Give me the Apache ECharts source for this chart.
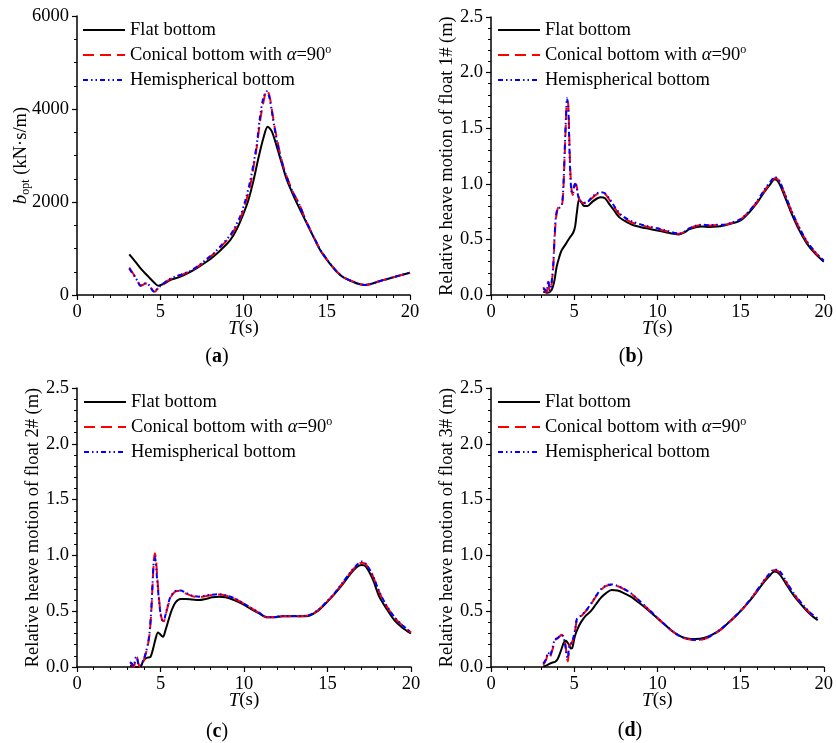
<!DOCTYPE html>
<html><head><meta charset="utf-8">
<script src="https://cdn.jsdelivr.net/npm/echarts@6/dist/echarts.min.js"></script>
<style>html,body{margin:0;padding:0;background:#fff}#c{width:836px;height:743px}</style>
</head><body><div id="c"></div>
<script>
// ---------- data ----------
const seriesNames = ['Flat bottom', 'Conical bottom with α=90°', 'Hemispherical bottom'];
const xTicks = [0, 5, 10, 15, 20];

// (a) b_opt
const aFlatT = [3.14,3.5,3.9,4.3,4.6,4.88,5.2,5.6,6.1,6.6,7.2,7.8,8.2,8.7,9.2,9.6,10.0,10.3,10.6,10.9,11.2,11.45,11.7,12.0,12.3,12.6,12.9,13.2,13.8,14.3,14.6,15.0,15.6,16.0,16.6,17.0,17.3,17.7,18.1,18.6,19.2,20.0];
const aFlatV = [875,720,540,390,280,200,240,320,380,460,580,720,830,990,1180,1420,1750,2050,2460,2950,3380,3620,3520,3190,2830,2480,2220,1980,1540,1180,970,760,500,380,280,230,215,240,290,340,400,480];
const aConT = [3.14,3.3,3.48,3.65,3.8,3.95,4.1,4.25,4.4,4.55,4.68,4.8,4.98,5.2,5.5,5.9,6.3,6.8,7.3,7.8,8.2,8.7,9.2,9.5,9.8,10.1,10.4,10.6,10.8,11.0,11.2,11.4,11.55,11.7,11.85,12.0,12.2,12.4,12.7,13.0,13.3,13.8,14.3,14.6,15.0,15.6,16.0,16.6,17.0,17.3,17.7,18.1,18.6,19.2,20.0];
const aConV = [590,500,400,300,205,215,245,245,180,95,70,120,180,240,320,390,440,510,620,760,880,1060,1260,1430,1640,1950,2350,2750,3190,3750,4150,4400,4300,4000,3650,3380,3030,2760,2450,2190,1990,1560,1190,980,770,505,385,285,230,215,240,290,340,400,480];
const aHemV = [570,480,390,290,200,220,250,240,170,90,65,125,185,250,330,395,445,520,630,775,895,1080,1285,1470,1690,2020,2450,2820,3250,3850,4250,4380,4250,3950,3620,3330,3000,2740,2440,2180,1985,1555,1190,980,770,505,385,285,228,213,240,290,342,402,482];

// (b) float 1#
const bFlatT = [3.14,3.4,3.64,3.8,3.94,4.1,4.24,4.5,4.75,4.94,5.06,5.16,5.3,5.45,5.6,5.8,6.1,6.4,6.6,6.85,7.1,7.4,7.7,8.0,8.5,9.0,9.5,10.0,10.5,11.0,11.3,11.6,11.9,12.3,12.7,13.1,13.6,14.0,14.5,15.0,15.5,16.0,16.4,16.8,17.05,17.3,17.7,18.1,18.5,19.0,19.5,20.0];
const bFlatV = [0.03,0.02,0.045,0.12,0.25,0.34,0.40,0.46,0.52,0.56,0.62,0.74,0.86,0.83,0.80,0.80,0.84,0.87,0.88,0.87,0.82,0.76,0.70,0.67,0.63,0.61,0.595,0.58,0.565,0.55,0.545,0.56,0.59,0.61,0.615,0.612,0.615,0.625,0.645,0.67,0.74,0.83,0.92,1.00,1.04,1.01,0.87,0.72,0.59,0.46,0.37,0.30];
const bConT = [3.14,3.24,3.34,3.44,3.54,3.64,3.74,3.82,3.9,3.98,4.06,4.16,4.26,4.34,4.42,4.5,4.57,4.64,4.7,4.76,4.84,4.92,5.0,5.08,5.16,5.24,5.34,5.5,5.75,6.0,6.3,6.6,6.85,7.1,7.4,7.7,8.0,8.5,9.0,9.5,10.0,10.5,11.0,11.3,11.6,11.9,12.3,12.7,13.1,13.6,14.0,14.5,15.0,15.5,16.0,16.4,16.8,17.05,17.3,17.7,18.1,18.5,19.0,19.5,20.0];
const bConV = [0.07,0.04,0.02,0.12,0.03,0.10,0.25,0.50,0.68,0.76,0.79,0.79,0.80,0.92,1.22,1.55,1.74,1.72,1.45,1.15,0.95,0.90,0.97,1.00,0.97,0.90,0.85,0.83,0.82,0.86,0.90,0.92,0.91,0.86,0.79,0.73,0.69,0.65,0.63,0.61,0.595,0.575,0.555,0.55,0.565,0.595,0.62,0.63,0.625,0.63,0.63,0.65,0.68,0.75,0.84,0.93,1.01,1.05,1.03,0.89,0.74,0.61,0.475,0.38,0.31];
const bHemV = [0.06,0.05,0.03,0.13,0.04,0.11,0.27,0.53,0.70,0.77,0.78,0.79,0.81,0.95,1.26,1.58,1.77,1.70,1.40,1.10,0.93,0.91,0.98,1.01,0.96,0.89,0.85,0.83,0.83,0.87,0.91,0.925,0.915,0.87,0.80,0.74,0.70,0.66,0.635,0.615,0.60,0.58,0.56,0.55,0.567,0.598,0.622,0.632,0.628,0.632,0.632,0.652,0.682,0.752,0.845,0.94,1.02,1.06,1.035,0.895,0.745,0.615,0.48,0.385,0.31];

// (c) float 2#
const cFlatT = [3.18,3.5,3.78,3.95,4.08,4.25,4.4,4.55,4.7,4.85,5.0,5.15,5.3,5.5,5.7,5.9,6.2,6.5,6.9,7.3,7.7,8.1,8.5,8.9,9.4,9.9,10.4,10.9,11.4,11.8,12.3,12.8,13.4,13.9,14.4,14.9,15.4,15.9,16.4,16.8,17.05,17.3,17.7,18.1,18.5,19.0,19.5,20.0];
const cFlatV = [0.015,0.0,0.0,0.05,0.075,0.085,0.09,0.16,0.25,0.31,0.29,0.27,0.33,0.43,0.52,0.58,0.61,0.61,0.605,0.6,0.61,0.625,0.63,0.625,0.60,0.565,0.52,0.48,0.445,0.445,0.455,0.455,0.455,0.46,0.50,0.57,0.65,0.74,0.84,0.90,0.915,0.90,0.79,0.63,0.53,0.42,0.35,0.30];
const cConT = [3.18,3.3,3.4,3.5,3.58,3.68,3.78,3.9,4.0,4.12,4.25,4.35,4.45,4.52,4.6,4.66,4.72,4.8,4.9,5.0,5.1,5.2,5.3,5.45,5.6,5.8,6.0,6.2,6.5,6.9,7.3,7.7,8.1,8.5,8.9,9.4,9.9,10.4,10.9,11.4,11.8,12.3,12.8,13.4,13.9,14.4,14.9,15.4,15.9,16.4,16.8,17.05,17.3,17.7,18.1,18.5,19.0,19.5,20.0];
const cConV = [0.045,0.02,0.0,0.06,0.09,0.03,0.0,0.03,0.06,0.12,0.20,0.30,0.50,0.72,0.95,1.02,0.98,0.82,0.63,0.49,0.42,0.41,0.46,0.55,0.62,0.665,0.68,0.68,0.66,0.635,0.625,0.635,0.645,0.65,0.64,0.615,0.575,0.53,0.485,0.445,0.445,0.455,0.455,0.455,0.465,0.505,0.575,0.655,0.75,0.85,0.915,0.935,0.92,0.82,0.67,0.555,0.445,0.37,0.31];
const cHemV = [0.04,0.03,0.01,0.08,0.09,0.02,0.01,0.04,0.07,0.13,0.21,0.32,0.52,0.74,0.96,0.99,0.93,0.78,0.61,0.48,0.42,0.42,0.47,0.56,0.63,0.67,0.685,0.685,0.665,0.64,0.63,0.64,0.648,0.652,0.642,0.617,0.578,0.532,0.487,0.447,0.447,0.457,0.457,0.457,0.467,0.507,0.578,0.658,0.755,0.855,0.92,0.945,0.925,0.825,0.675,0.56,0.45,0.372,0.312];

// (d) float 3#
const dFlatT = [3.14,3.35,3.54,3.7,3.84,4.0,4.14,4.26,4.38,4.5,4.62,4.72,4.8,4.88,4.96,5.05,5.2,5.4,5.7,6.0,6.3,6.6,6.9,7.25,7.6,7.95,8.4,8.9,9.4,9.9,10.4,10.9,11.4,11.8,12.3,12.8,13.3,13.8,14.3,14.8,15.3,15.8,16.3,16.7,17.05,17.35,17.75,18.2,18.7,19.2,19.64];
const dFlatV = [0.005,0.015,0.03,0.04,0.045,0.07,0.12,0.17,0.22,0.235,0.215,0.19,0.165,0.17,0.22,0.28,0.34,0.40,0.46,0.50,0.56,0.62,0.66,0.69,0.685,0.665,0.63,0.575,0.515,0.45,0.385,0.32,0.275,0.255,0.25,0.26,0.29,0.335,0.40,0.47,0.55,0.64,0.74,0.81,0.855,0.83,0.74,0.64,0.55,0.47,0.42];
const dConT = [3.14,3.3,3.44,3.54,3.64,3.74,3.84,3.94,4.04,4.14,4.24,4.34,4.42,4.5,4.56,4.62,4.68,4.76,4.86,4.96,5.06,5.16,5.3,5.45,5.7,6.0,6.3,6.6,6.9,7.2,7.5,7.9,8.4,8.9,9.4,9.9,10.4,10.9,11.4,11.8,12.3,12.8,13.3,13.8,14.3,14.8,15.3,15.8,16.3,16.7,17.05,17.35,17.75,18.2,18.7,19.2,19.64];
const dConV = [0.02,0.06,0.12,0.09,0.13,0.18,0.24,0.25,0.26,0.275,0.29,0.28,0.25,0.17,0.08,0.05,0.15,0.20,0.22,0.26,0.33,0.42,0.445,0.46,0.50,0.56,0.63,0.69,0.725,0.735,0.73,0.705,0.66,0.595,0.525,0.455,0.385,0.32,0.27,0.25,0.24,0.25,0.285,0.335,0.40,0.47,0.55,0.645,0.75,0.825,0.87,0.85,0.76,0.655,0.56,0.48,0.43];
const dHemV = [0.03,0.07,0.13,0.10,0.14,0.20,0.25,0.255,0.265,0.28,0.285,0.27,0.23,0.16,0.10,0.08,0.16,0.20,0.22,0.27,0.34,0.43,0.45,0.465,0.505,0.565,0.635,0.695,0.73,0.74,0.732,0.707,0.662,0.597,0.527,0.457,0.387,0.322,0.272,0.252,0.242,0.252,0.287,0.337,0.402,0.472,0.553,0.648,0.753,0.83,0.875,0.86,0.765,0.66,0.565,0.485,0.435];

// ---------- chart ----------
const FONT = 'Liberation Serif';
const pts = (t, v) => t.map((x, i) => [x, v[i]]);

const grids = [
  {left: 77, right: 426, top: 16, bottom: 448},
  {left: 491, right: 12, top: 17, bottom: 448},
  {left: 77, right: 425, top: 388, bottom: 76},
  {left: 491, right: 12, top: 388, bottom: 76}
];

const axisCommon = {
  axisLine: {show: true, onZero: false, lineStyle: {color: '#000', width: 1.5}},
  axisTick: {show: true, inside: false, length: 5, lineStyle: {color: '#000', width: 1.2}},
  minorTick: {show: true, length: 3, lineStyle: {color: '#000', width: 1}},
  splitLine: {show: false},
  minorSplitLine: {show: false}
};

function xAxis(gi) {
  return Object.assign({}, axisCommon, {
    type: 'value', gridIndex: gi, min: xTicks[0], max: xTicks[xTicks.length - 1], interval: 5,
    minorTick: Object.assign({}, axisCommon.minorTick, {splitNumber: 5}),
    axisLabel: {color: '#000', fontFamily: FONT, fontSize: 18.5, margin: 8},
    name: '{i|T}(s)', nameLocation: 'middle', nameGap: 24, nameMoveOverlap: false,
    nameTextStyle: {color: '#000', fontFamily: FONT, fontSize: 19,
      rich: {i: {fontStyle: 'italic', fontFamily: FONT, fontSize: 19, color: '#000'}}}
  });
}
function yAxis(gi, max, interval, minorSplit, name, nameGap, fmt) {
  return Object.assign({}, axisCommon, {
    type: 'value', gridIndex: gi, min: 0, max: max, interval: interval,
    minorTick: Object.assign({}, axisCommon.minorTick, {splitNumber: minorSplit}),
    axisLabel: {color: '#000', fontFamily: FONT, fontSize: 18.5, margin: 8, formatter: fmt},
    name: name, nameLocation: 'middle', nameGap: nameGap, nameMoveOverlap: false,
    nameTextStyle: {color: '#000', fontFamily: FONT, fontSize: 18.5, lineHeight: 22,
      rich: {
        i: {fontStyle: 'italic', fontFamily: FONT, fontSize: 19, color: '#000', lineHeight: 22},
        sub: {fontFamily: FONT, fontSize: 12, color: '#000', lineHeight: 12, verticalAlign: 'bottom'},
        n: {fontFamily: FONT, fontSize: 18.5, color: '#000', lineHeight: 22}
      }}
  });
}
const fmt1 = v => v.toFixed(1);
const fmt0 = v => String(v);

const styles = [
  {color: '#000000', lineStyle: {color: '#000000', width: 2, type: 'solid'}},
  {color: '#ff0000', lineStyle: {color: '#ff0000', width: 2, type: [11, 6]}},
  {color: '#0000ff', lineStyle: {color: '#0000ff', width: 2, type: [5, 3, 1.5, 3, 1.5, 3]}}
];

const panelData = [
  [pts(aFlatT, aFlatV), pts(aConT, aConV), pts(aConT, aHemV)],
  [pts(bFlatT, bFlatV), pts(bConT, bConV), pts(bConT, bHemV)],
  [pts(cFlatT, cFlatV), pts(cConT, cConV), pts(cConT, cHemV)],
  [pts(dFlatT, dFlatV), pts(dConT, dConV), pts(dConT, dHemV)]
];

const series = [];
panelData.forEach((pd, gi) => {
  pd.forEach((d, si) => {
    series.push({
      type: 'line', name: seriesNames[si], xAxisIndex: gi, yAxisIndex: gi,
      data: d, symbol: 'none', smooth: 0.3, animation: false,
      color: styles[si].color, lineStyle: styles[si].lineStyle, z: 2 + si
    });
  });
});

const legendPos = [[77, 14], [492, 14], [78, 386], [492, 386]];
const legends = legendPos.map(p => ({
  left: p[0], top: p[1], orient: 'vertical', itemWidth: 42, itemHeight: 14, itemGap: 3,
  data: seriesNames, selectedMode: false,
  itemStyle: {opacity: 0},
  formatter: n => n.indexOf('Conical') === 0 ? 'Conical bottom with {it|α}=90{sup|o}' : n,
  textStyle: {color: '#000', fontFamily: FONT, fontSize: 18.5, lineHeight: 22,
    rich: {
      it: {fontStyle: 'italic', fontFamily: FONT, fontSize: 18.5, color: '#000', lineHeight: 22},
      sup: {fontFamily: FONT, fontSize: 12, color: '#000', lineHeight: 12, verticalAlign: 'top'}
    }}
}));

const caps = [['a', 217, 357], ['b', 631, 357], ['c', 217, 732], ['d', 630, 731]];
const graphic = caps.map(c => ({
  type: 'text', x: c[1], y: c[2],
  style: {text: '({b|' + c[0] + '})', align: 'center', verticalAlign: 'middle',
    font: '20px "Liberation Serif"', fill: '#000',
    rich: {b: {fontWeight: 'bold', fontFamily: FONT, fontSize: 20, fill: '#000', color: '#000'}}}
}));

const option = {
  animation: false,
  backgroundColor: '#fff',
  grid: grids,
  xAxis: [xAxis(0), xAxis(1), xAxis(2), xAxis(3)],
  yAxis: [
    yAxis(0, 6000, 2000, 4, '{i|b}{sub|opt}{n| (kN·s/m)}', 45, fmt0),
    yAxis(1, 2.5, 0.5, 5, 'Relative heave motion of float 1# (m)', 33, fmt1),
    yAxis(2, 2.5, 0.5, 5, 'Relative heave motion of float 2# (m)', 33, fmt1),
    yAxis(3, 2.5, 0.5, 5, 'Relative heave motion of float 3# (m)', 33, fmt1)
  ],
  legend: legends,
  series: series,
  graphic: graphic
};

const chart = echarts.init(document.getElementById('c'), null, {renderer: 'canvas'});
chart.setOption(option);
</script>
</body></html>
